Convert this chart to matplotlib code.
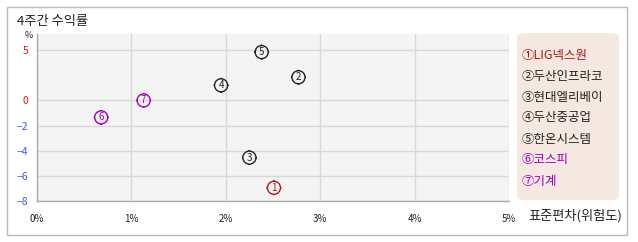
import numpy as np
import matplotlib.pyplot as plt
from matplotlib.path import Path
from matplotlib.patches import FancyBboxPatch, Rectangle

plt.rcParams['font.family'] = ['Noto Sans CJK KR', 'DejaVu Sans']

names = ['LIG넥스원', '두산인프라코', '현대엘리베이', '두산중공업', '한온시스템', '코스피', '기계']
nums = ['①', '②', '③', '④', '⑤', '⑥', '⑦']
digits = ['1', '2', '3', '4', '5', '6', '7']
risk = [2.51, 2.77, 2.25, 1.95, 2.38, 0.68, 1.13]      # std dev (%)
ret = [-6.95, 2.3, -4.55, 1.5, 4.8, -1.35, 0.0]        # 4-week return (%)
colors = ['#b01818', '#222222', '#222222', '#222222', '#222222', '#a000b8', '#a000b8']

xticks = [0, 1, 2, 3, 4, 5]
xlabels = ['0%', '1%', '2%', '3%', '4%', '5%']
yticks = [5, 0, -2, -4, -6, -8]

W, H = 638, 242
fig = plt.figure(figsize=(W / 100, H / 100), dpi=100)

# outer frame
fig.patches.append(Rectangle((7 / W, 1 - 235 / H), 620 / W, 228 / H, transform=fig.transFigure,
                             fill=False, edgecolor='#bbbbbb', lw=1))

ax = fig.add_axes([37 / W, 1 - 201 / H, 472 / W, 167 / H])

# positive side is compressed relative to the negative side
def fwd(v):
    v = np.asarray(v, dtype=float)
    return np.where(v > 0, v * 0.8, v)

def inv(v):
    v = np.asarray(v, dtype=float)
    return np.where(v > 0, v / 0.8, v)

ax.set_yscale('function', functions=(fwd, inv))
ax.set_xlim(0, 5)
ax.set_ylim(-8, 6.6)
ax.set_facecolor('#f4f4f4')
for s in ['top', 'right']:
    ax.spines[s].set_visible(False)
for s in ['left', 'bottom']:
    ax.spines[s].set_color('#aaaaaa')
    ax.spines[s].set_linewidth(1)

ax.set_xticks(xticks)
ax.set_xticklabels(xlabels, fontsize=7, color='#222222')
ax.set_yticks(yticks)
ax.set_yticklabels([str(t).replace('-', '−') for t in yticks], fontsize=7.5)
for lab, t in zip(ax.get_yticklabels(), yticks):
    lab.set_color('#ee1111' if t >= 0 else '#4455ee')
ax.tick_params(length=0, pad=6)
ax.tick_params(axis='x', pad=9)
ax.grid(True, color='#d8d8d8', lw=1)
ax.set_axisbelow(True)

# marker: circle with four small ticks
circ = Path.unit_circle()
ticks = Path([(0, 1), (0, 1.15), (0, -1), (0, -1.15), (1, 0), (1.15, 0), (-1, 0), (-1.15, 0)],
             [Path.MOVETO, Path.LINETO] * 4)
mk = Path.make_compound_path(circ, ticks)

for x, y, d, c in zip(risk, ret, digits, colors):
    ax.scatter([x], [y], marker=mk, s=117, facecolor='none', edgecolor=c, lw=1, zorder=3)
    ax.text(x, y, d, color=c, fontsize=7, ha='center', va='center', zorder=4)

fig.text(17 / W, 1 - 22 / H, '4주간 수익률', fontsize=9.5, color='#222222', va='center')
fig.text(25 / W, 1 - 36 / H, '%', fontsize=6.5, color='#222222', va='center')
fig.text(528 / W, 1 - 216 / H, '표준편차(위험도)', fontsize=9.5, color='#222222', va='center')

# legend box
fig.patches.append(FancyBboxPatch((517 / W, 1 - 200 / H), 102 / W, 167 / H,
                                  boxstyle='round,pad=0,rounding_size=0.015',
                                  transform=fig.transFigure, facecolor='#f5e8e1',
                                  edgecolor='none'))
for i, (n, nm, c) in enumerate(zip(nums, names, colors)):
    fig.text(522 / W, 1 - (55 + i * 21) / H, n + nm, fontsize=9, color=c, va='center')

fig.savefig('out.png', dpi=100)
